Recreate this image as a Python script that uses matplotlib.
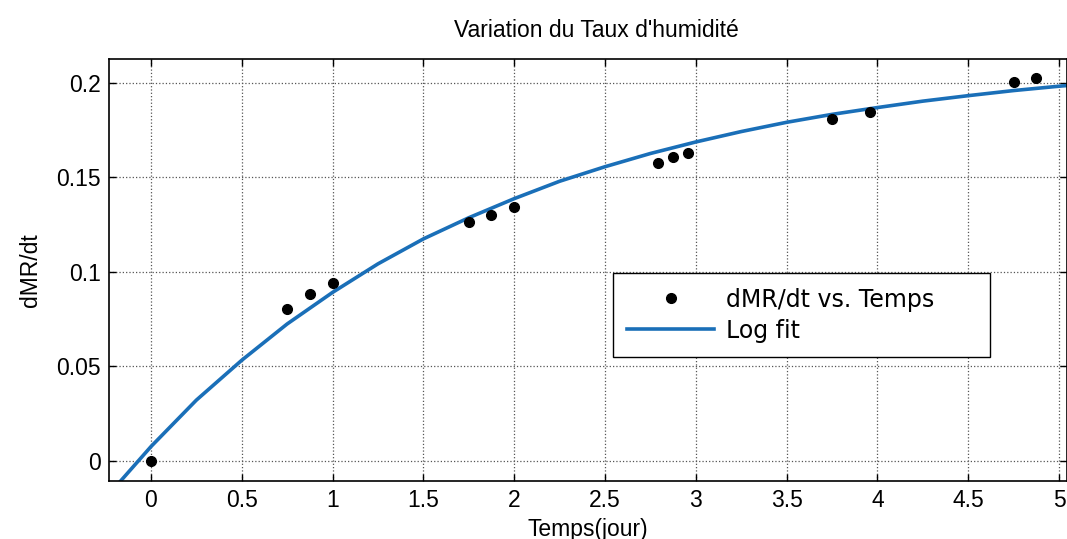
import matplotlib
matplotlib.use('Agg')
import matplotlib.pyplot as plt
from matplotlib.ticker import FormatStrFormatter

# measured points (time in days)
temps = [0.0, 0.75, 0.875, 1.0, 1.75, 1.875, 2.0, 2.79, 2.875, 2.958, 3.75, 3.958, 4.75, 4.875]
dmr_dt = [0.0, 0.0804, 0.0884, 0.0942, 0.1265, 0.1304, 0.1342, 0.1578, 0.1607, 0.1628,
          0.1811, 0.1848, 0.2005, 0.2028]

# fitted curve
fit_x = [-0.2, 0.0, 0.25, 0.5, 0.75, 1.0, 1.25, 1.5, 1.75, 2.0, 2.25, 2.5, 2.75, 3.0,
         3.25, 3.5, 3.75, 4.0, 4.25, 4.5, 4.75, 5.0, 5.05]
fit_y = [-0.0142, 0.0076, 0.0322, 0.0533, 0.0725, 0.0892, 0.1043, 0.1175, 0.1287, 0.1388,
         0.1480, 0.1557, 0.1627, 0.1688, 0.1743, 0.1792, 0.1834, 0.1870, 0.1904, 0.1933,
         0.1960, 0.1983, 0.1987]

xticks = [0, 0.5, 1, 1.5, 2, 2.5, 3, 3.5, 4, 4.5, 5]
yticks = [0, 0.05, 0.1, 0.15, 0.2]

plt.rcParams['font.family'] = ['Liberation Sans', 'DejaVu Sans']

fig = plt.figure(figsize=(10.67, 5.39), dpi=100)
ax = fig.add_axes([109/1067, 1 - 481/539, 1 - 109/1067, (481 - 59)/539])

ax.plot(temps, dmr_dt, 'o', color='black', markersize=7, label='dMR/dt vs. Temps', zorder=3)
ax.plot(fit_x, fit_y, '-', color='#1a6fb8', linewidth=2.6, label='Log fit', zorder=2)

ax.set_xlim(-0.231, 5.044)
ax.set_ylim(-0.0106, 0.2127)
ax.set_xticks(xticks)
ax.set_yticks(yticks)
ax.xaxis.set_major_formatter(FormatStrFormatter('%g'))
ax.yaxis.set_major_formatter(FormatStrFormatter('%g'))
ax.tick_params(direction='in', length=5, width=1, top=True, right=True,
               labelsize=16.5, pad=6)
ax.grid(True, linestyle=':', color='#555555', linewidth=0.9)
for s in ax.spines.values():
    s.set_linewidth(1.2)

ax.set_title("Variation du Taux d'humidité", fontsize=16.5, pad=16, x=0.509)
ax.set_xlabel('Temps(jour)', fontsize=16.5, labelpad=4)
ax.set_ylabel('dMR/dt', fontsize=16.5, labelpad=10)

leg = ax.legend(loc='upper left', bbox_to_anchor=(0.526, 0.301, 0.394, 0.191),
                mode='expand', borderaxespad=0, fancybox=False, framealpha=1,
                edgecolor='black', handlelength=3.7, handletextpad=0.47,
                labelspacing=0.3, borderpad=0.6,
                prop={'family': 'DejaVu Sans', 'size': 17})
leg.get_frame().set_linewidth(1.0)

fig.savefig('out.png', dpi=100)
